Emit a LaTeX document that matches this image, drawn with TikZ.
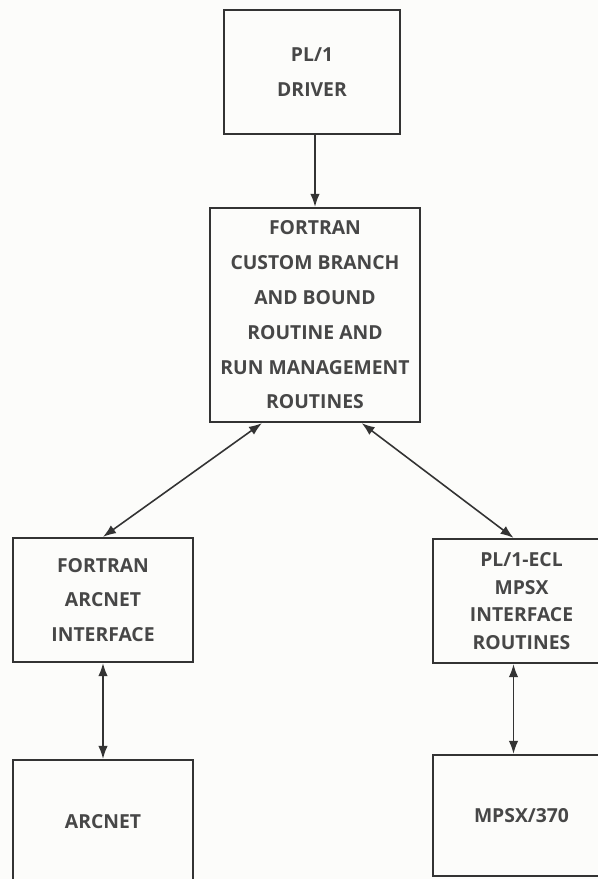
\documentclass[tikz,border=0pt]{standalone}
\usepackage{fontspec}
\setmainfont{Open Sans}
\usepackage{tikz}
\usetikzlibrary{arrows.meta,calc}

\begin{document}
\begin{tikzpicture}[
  font=\bfseries\fontsize{11}{19.8}\selectfont,
  box/.style={draw=black!80, line width=1.3pt, text=black!72, align=center, inner sep=0pt},
  link/.style={black!80, line width=0.9pt, -{Latex[length=2.6mm,width=1.9mm]}},
  dlink/.style={link, {Latex[length=2.6mm,width=1.9mm]}-{Latex[length=2.6mm,width=1.9mm]}}]
  \useasboundingbox[fill={rgb,255:red,252;green,252;blue,250}] (0,0) rectangle (11.96,-17.58);
  \clip (0,0) rectangle (11.96,-17.58);
  % top of the chart
  \node[box, minimum width=3.52cm, minimum height=2.48cm] (driver) at (6.24,-1.44) {PL/1\\DRIVER};
  \node[box, minimum width=4.2cm, minimum height=4.28cm] (fortran) at (6.30,-6.30)
    {FORTRAN\\CUSTOM BRANCH\\AND BOUND\\ROUTINE AND\\RUN MANAGEMENT\\ROUTINES};
  % interfaces
  \node[box, minimum width=3.6cm, minimum height=2.48cm] (arcif) at (2.06,-12.0)
    {FORTRAN\\ARCNET\\INTERFACE};
  \node[box, minimum width=3.54cm, minimum height=2.48cm, font=\bfseries\fontsize{11}{15.6}\selectfont]
    (mpsxif) at (10.43,-12.02) {PL/1-ECL\\MPSX\\INTERFACE\\ROUTINES};
  % solvers
  \node[box, minimum width=3.6cm, minimum height=2.48cm] (arcnet) at (2.06,-16.44) {ARCNET};
  \node[box, minimum width=3.54cm, minimum height=2.42cm] (mpsx) at (10.43,-16.31) {MPSX/370};
  \draw[link] (driver.south -| fortran.north) -- (fortran.north);
  \draw[dlink] ($(fortran.south west)!0.25!(fortran.south east)$) -- (arcif.north);
  \draw[dlink] ($(fortran.south west)!0.72!(fortran.south east)$) -- ([xshift=-0.16cm]mpsxif.north);
  \draw[dlink] (arcif.south) -- (arcnet.north);
  \draw[dlink] ([xshift=-0.16cm]mpsxif.south) -- ([xshift=-0.16cm]mpsx.north);
\end{tikzpicture}
\end{document}
